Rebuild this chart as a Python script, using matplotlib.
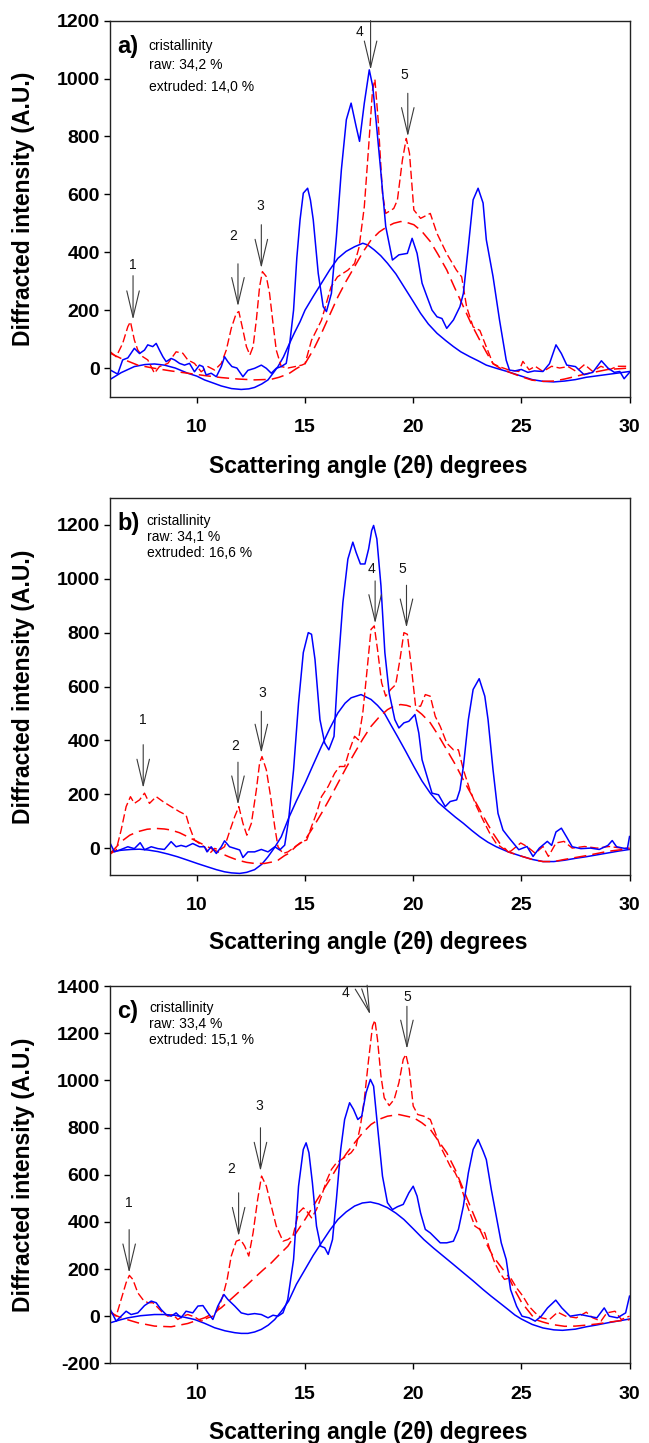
import matplotlib
matplotlib.use("Agg")
import matplotlib.pyplot as plt

plt.rcParams['font.family'] = ['Liberation Sans', 'DejaVu Sans']
plt.rcParams['axes.unicode_minus'] = False

# ---------------- panel a ----------------
a_raw_x = [6.0, 6.34, 6.57, 6.81, 7.11, 7.35, 7.58, 7.73, 7.96, 8.12, 8.27, 8.43, 8.58, 8.81, 8.97, 9.2, 9.43,
           9.66, 9.89, 10.12, 10.28, 10.43, 10.66, 10.9, 11.13, 11.28, 11.43, 11.62, 11.85, 12.13, 12.36, 12.67,
           12.98, 13.21, 13.44, 13.67, 13.9, 14.13, 14.3, 14.47, 14.62, 14.77, 14.92, 15.12, 15.25, 15.38, 15.61,
           15.84, 15.99, 16.22, 16.45, 16.68, 16.91, 17.13, 17.36, 17.52, 17.74, 17.97, 18.13, 18.28, 18.51, 18.73,
           19.04, 19.34, 19.73, 19.95, 20.18, 20.41, 20.64, 20.87, 21.1, 21.33, 21.55, 21.86, 22.16, 22.32, 22.55,
           22.77, 23.0, 23.23, 23.38, 23.69, 23.99, 24.3, 24.45, 24.7, 25.0, 25.3, 25.6, 26.0, 26.3, 26.6, 26.85,
           27.1, 27.5, 27.9, 28.3, 28.7, 29.0, 29.3, 29.55, 29.75, 30.0]
a_raw_y = [-7, -21, 28, 35, 68, 50, 62, 80, 74, 85, 62, 39, 22, 33, 28, 16, 10,
           16, -13, 10, 5, -24, -18, -30, 5, 39, 22, 5, 0, -30, -8, -1,
           10, -1, -18, -1, 5, 16, 90, 200, 380, 512, 604, 621, 580, 512, 327,
           212, 195, 258, 454, 685, 858, 915, 835, 783, 915, 1030, 973, 858, 673, 489,
           373, 391, 396, 448, 396, 293, 246, 200, 177, 171, 137, 166, 212, 258, 420,
           581, 621, 570, 443, 316, 166, 27, -7, -10, -5, -15, -10, -12, 15, 80, 50,
           10, 5, -23, -15, 25, 0, -15, -12, -37, -15]
a_raw_fit_x = [6.0, 6.5, 7.11, 7.6, 8.04, 8.5, 9.0, 9.58, 10.0, 10.35, 10.8, 11.13, 11.6, 12.05, 12.4, 12.67,
               13.0, 13.29, 13.5, 13.75, 14.0, 14.24, 14.5, 14.77, 15.0, 15.4, 15.76, 16.15, 16.52, 16.9, 17.29,
               17.67, 17.9, 18.2, 18.5, 18.81, 19.2, 19.57, 20.0, 20.34, 20.7, 21.1, 21.5, 21.86, 22.2, 22.62,
               23.0, 23.38, 23.8, 24.39, 25.0, 25.5, 26.0, 26.5, 27.0, 27.5, 28.0, 28.5, 29.0, 29.5, 30.0]
a_raw_fit_y = [-39, -16, 5, 12, 14, 10, 0, -18, -28, -41, -53, -62, -71, -74, -72, -67,
               -55, -41, -20, 5, 38, 78, 120, 160, 200, 250, 293, 340, 379, 403, 419,
               431, 425, 408, 388, 362, 325, 281, 230, 189, 152, 120, 95, 74, 56, 39,
               25, 10, 0, -13, -28, -40, -46, -48, -45, -40, -32, -27, -22, -17, -12]
a_ext_x = [6.0, 6.27, 6.57, 6.81, 6.93, 7.11, 7.27, 7.5, 7.73, 8.04, 8.27, 8.66, 9.04, 9.35, 9.58, 9.89, 10.2,
           10.51, 10.82, 11.13, 11.36, 11.59, 11.82, 11.94, 12.13, 12.29, 12.45, 12.6, 12.75, 12.9, 13.03, 13.21,
           13.36, 13.52, 13.67, 13.9, 14.21, 14.54, 14.85, 15.0, 15.3, 15.76, 16.2, 16.5, 16.98, 17.29, 17.5,
           17.74, 17.94, 18.12, 18.23, 18.38, 18.58, 18.73, 19.1, 19.27, 19.5, 19.68, 19.83, 20.03, 20.34, 20.79,
           21.1, 21.55, 22.0, 22.24, 22.47, 22.77, 23.08, 23.38, 23.69, 24.0, 24.4, 24.88, 25.07, 25.36, 25.64,
           26.0, 26.4, 26.77, 27.16, 27.54, 27.92, 28.3, 28.68, 29.06, 29.44, 30.0]
a_ext_y = [56, 39, 85, 143, 160, 97, 62, 39, 28, -18, 5, 16, 56, 51, 28, 16, -13,
           5, -7, 16, 62, 137, 189, 195, 131, 74, 45, 74, 166, 281, 333, 316,
           258, 154, 62, 5, 0, 5, 10, 15, 96, 165, 280, 315, 338, 361, 418,
           557, 764, 960, 997, 857, 603, 534, 551, 580, 718, 793, 741, 546, 517, 534,
           465, 395, 338, 315, 211, 142, 130, 73, 15, 4, -6, -12, 23, -6, 6,
           -12, 6, 0, 5, -12, 12, -12, 6, -6, 6, 6]
a_ext_fit_x = [6.0, 6.5, 7.27, 8.04, 8.8, 9.58, 10.35, 11.13, 11.9, 12.67, 13.44, 13.8, 14.24, 14.6, 15.0, 15.4,
               15.76, 16.15, 16.52, 16.9, 17.29, 17.67, 18.05, 18.43, 18.81, 19.1, 19.42, 19.7, 20.03, 20.4,
               20.79, 21.15, 21.55, 21.9, 22.32, 22.7, 23.08, 23.4, 23.69, 24.0, 24.39, 25.0, 25.5, 26.0, 26.5,
               27.0, 27.5, 28.0, 29.0, 30.0]
a_ext_fit_y = [51, 33, 10, -1, -10, -18, -26, -33, -38, -41, -39, -32, -20, -2, 15, 65,
               120, 185, 246, 300, 350, 400, 442, 470, 489, 500, 506, 503, 495, 472,
               437, 392, 339, 280, 212, 150, 96, 52, 15, 0, -13, -30, -42, -46, -45,
               -38, -29, -20, -5, 0]

# ---------------- panel b ----------------
b_raw_x = [6.0, 6.19, 6.5, 6.81, 7.11, 7.38, 7.58, 7.89, 8.2, 8.5, 8.81, 9.04, 9.27, 9.5, 9.81, 10.12, 10.35,
           10.47, 10.66, 10.9, 11.13, 11.28, 11.51, 11.75, 11.98, 12.13, 12.36, 12.67, 12.98, 13.29, 13.6, 13.83,
           14.06, 14.24, 14.47, 14.7, 14.92, 15.15, 15.3, 15.46, 15.69, 15.91, 16.1, 16.34, 16.52, 16.75, 16.98,
           17.21, 17.36, 17.56, 17.77, 17.94, 18.08, 18.17, 18.32, 18.51, 18.69, 18.89, 19.15, 19.34, 19.57, 19.8,
           20.08, 20.26, 20.41, 20.64, 20.87, 21.17, 21.48, 21.71, 22.01, 22.16, 22.32, 22.55, 22.77, 23.05,
           23.31, 23.46, 23.69, 23.92, 24.15, 24.39, 24.5, 24.88, 25.26, 25.54, 25.83, 26.2, 26.4, 26.6, 26.85,
           27.1, 27.35, 27.75, 28.2, 28.6, 29.0, 29.2, 29.4, 29.7, 29.9, 30.0]
b_raw_y = [17, -14, -5, 5, -2, 20, -6, 5, -2, -5, 24, 5, 10, 5, 17, 5, 5,
           -14, 5, -20, 5, 27, 5, -1, -7, -35, -14, -14, -5, -14, 5, -7,
           11, 104, 291, 539, 726, 800, 794, 701, 477, 390, 365, 415, 663, 912, 1073,
           1136, 1098, 1055, 1055, 1111, 1179, 1198, 1148, 974, 726, 576, 477, 446, 465, 471,
           496, 427, 328, 266, 204, 198, 154, 173, 179, 216, 303, 477, 589, 629,
           564, 477, 291, 129, 67, 42, 31, -6, 6, -31, 0, 25, 10, 60, 74,
           40, 5, -2, 0, -5, 10, 28, 5, 0, -2, 43]
b_raw_fit_x = [6.0, 6.5, 6.96, 7.35, 7.73, 8.2, 8.66, 9.1, 9.58, 10.05, 10.51, 10.9, 11.28, 11.6, 11.98, 12.3,
               12.67, 13.0, 13.29, 13.6, 13.9, 14.24, 14.6, 15.0, 15.38, 15.76, 16.15, 16.52, 16.85, 17.13,
               17.59, 18.05, 18.35, 18.66, 18.95, 19.27, 19.65, 20.03, 20.4, 20.79, 21.15, 21.55, 21.95, 22.32,
               22.7, 23.08, 23.45, 23.84, 24.39, 25.0, 25.5, 26.0, 26.5, 27.0, 27.5, 28.0, 28.5, 29.0, 29.5, 30.0]
b_raw_fit_y = [-14, -8, -5, -4, -7, -13, -22, -32, -45, -58, -70, -80, -88, -92, -94, -90,
               -80, -60, -32, 3, 42, 111, 175, 241, 310, 378, 445, 502, 538, 558,
               570, 552, 530, 502, 460, 415, 360, 303, 250, 204, 170, 142, 115, 92,
               66, 42, 22, 5, -14, -30, -42, -50, -50, -45, -38, -32, -25, -18, -11, -5]
b_ext_x = [6.0, 6.27, 6.5, 6.73, 6.93, 7.11, 7.35, 7.58, 7.81, 8.12, 8.43, 8.81, 9.2, 9.5, 9.66, 9.89, 10.12,
           10.35, 10.59, 10.82, 11.05, 11.28, 11.51, 11.75, 11.94, 12.13, 12.31, 12.52, 12.75, 12.9, 13.01, 13.21,
           13.41, 13.6, 13.75, 13.98, 14.21, 14.54, 14.85, 15.08, 15.3, 15.53, 15.76, 16.07, 16.37, 16.6, 16.83,
           17.06, 17.29, 17.47, 17.67, 17.87, 18.05, 18.2, 18.35, 18.54, 18.73, 18.96, 19.19, 19.39, 19.57, 19.73,
           19.91, 20.11, 20.34, 20.56, 20.79, 21.02, 21.25, 21.55, 21.86, 22.09, 22.32, 22.62, 22.93, 23.23,
           23.54, 23.84, 24.15, 24.5, 24.97, 25.26, 25.64, 26.0, 26.25, 26.6, 26.97, 27.35, 27.92, 28.5, 29.06,
           29.63, 30.0]
b_ext_y = [-22, -7, 67, 154, 191, 166, 179, 204, 166, 191, 173, 154, 135, 123, 79, 30, 17,
           5, -20, -1, -7, 5, 61, 117, 154, 92, 48, 92, 216, 316, 340, 291,
           191, 79, 5, -20, -14, 5, 24, 30, 80, 129, 191, 229, 278, 303, 303,
           365, 415, 402, 502, 663, 812, 825, 738, 614, 564, 589, 607, 701, 800, 794,
           676, 527, 527, 570, 564, 489, 452, 390, 365, 365, 291, 216, 154, 104,
           55, 17, -1, -12, 19, 6, -19, 6, -31, 19, 25, 0, 6, 0, 6,
           0, 0]
b_ext_fit_x = [6.0, 6.5, 6.9, 7.27, 7.7, 8.12, 8.5, 8.81, 9.2, 9.58, 9.95, 10.35, 10.75, 11.13, 11.5, 11.9, 12.3,
               12.67, 13.13, 13.45, 13.75, 14.05, 14.24, 14.6, 15.0, 15.38, 15.76, 16.15, 16.52, 16.9, 17.29,
               17.67, 18.05, 18.43, 18.81, 19.1, 19.42, 19.7, 20.03, 20.4, 20.79, 21.15, 21.55, 21.95, 22.32,
               22.7, 23.08, 23.4, 23.69, 24.0, 24.39, 25.0, 25.5, 26.0, 26.5, 27.0, 27.5, 28.0, 28.5, 29.0,
               29.5, 30.0]
b_ext_fit_y = [-20, 24, 48, 61, 70, 73, 71, 67, 57, 42, 27, 11, -5, -20, -33, -45, -53,
               -57, -57, -52, -45, -28, -20, 8, 30, 78, 129, 185, 241, 298, 353,
               405, 452, 487, 514, 527, 533, 530, 521, 497, 465, 420, 365, 310, 253,
               198, 142, 95, 55, 18, -14, -30, -42, -50, -50, -42, -35, -28, -20, -12,
               -7, -3]

# ---------------- panel c ----------------
c_raw_x = [6.0, 6.27, 6.5, 6.73, 6.96, 7.27, 7.58, 7.89, 8.12, 8.35, 8.58, 8.81, 9.04, 9.27, 9.5, 9.81, 10.05,
           10.28, 10.51, 10.74, 10.97, 11.25, 11.43, 11.75, 12.05, 12.36, 12.67, 12.98, 13.29, 13.52, 13.75,
           13.98, 14.2, 14.47, 14.7, 14.92, 15.05, 15.18, 15.34, 15.53, 15.72, 15.91, 16.07, 16.27, 16.45, 16.65,
           16.83, 17.06, 17.24, 17.44, 17.62, 17.82, 18.02, 18.17, 18.35, 18.58, 18.81, 19.04, 19.27, 19.54,
           19.8, 20.0, 20.18, 20.34, 20.56, 20.79, 21.02, 21.25, 21.55, 21.86, 22.09, 22.32, 22.55, 22.77, 23.0,
           23.23, 23.38, 23.61, 23.84, 24.07, 24.3, 24.5, 24.78, 25.03, 25.35, 25.64, 25.92, 26.21, 26.59,
           26.87, 27.25, 27.73, 28.1, 28.49, 28.83, 29.06, 29.44, 29.82, 30.0]
c_raw_y = [28, -21, 0, 21, 7, 14, 45, 64, 57, 28, 7, 0, 14, -7, 21, 14, 43,
           45, 14, -14, 43, 92, 71, 43, 14, 7, 11, 7, -7, 4, 0,
           14, 70, 240, 551, 707, 735, 693, 566, 382, 297, 290, 262, 325, 495, 707,
           834, 905, 877, 834, 848, 947, 1004, 975, 806, 594, 481, 452, 464, 474,
           523, 551, 509, 438, 368, 353, 332, 311, 311, 318, 368, 467, 608, 707, 749,
           700, 664, 537, 424, 311, 240, 113, 42, 0, -7, -21, 0, 35, 68,
           35, 0, 7, 0, -7, 35, 0, -7, 14, 85]
c_raw_fit_x = [6.0, 6.4, 6.81, 7.4, 8.04, 8.5, 8.97, 9.4, 9.89, 10.35, 10.82, 11.3, 11.75, 12.05, 12.36, 12.67,
               12.98, 13.3, 13.6, 13.9, 14.24, 14.6, 15.0, 15.38, 15.76, 16.15, 16.52, 16.9, 17.29, 17.65, 18.02,
               18.4, 18.81, 19.2, 19.57, 20.03, 20.49, 20.95, 21.4, 21.85, 22.32, 22.78, 23.23, 23.6, 23.99,
               24.39, 24.7, 25.0, 25.5, 26.0, 26.5, 26.9, 27.5, 28.0, 28.5, 29.0, 29.5, 30.0]
c_raw_fit_y = [-28, -17, -7, 2, 7, 7, 4, -4, -14, -30, -49, -62, -70, -73, -73, -67,
               -56, -38, -14, 20, 64, 135, 198, 258, 311, 365, 410, 442, 467, 480, 484,
               476, 460, 437, 410, 368, 325, 288, 254, 220, 184, 149, 113, 85, 57,
               28, 5, -12, -35, -50, -58, -60, -55, -45, -37, -28, -20, -12]
c_ext_x = [6.0, 6.27, 6.5, 6.73, 6.88, 7.04, 7.27, 7.5, 7.73, 7.97, 8.2, 8.43, 8.66, 8.89, 9.12, 9.35, 9.58,
           9.89, 10.2, 10.51, 10.74, 10.97, 11.2, 11.4, 11.59, 11.82, 12.02, 12.21, 12.4, 12.6, 12.81, 12.99,
           13.21, 13.44, 13.67, 13.98, 14.21, 14.44, 14.7, 14.92, 15.08, 15.3, 15.53, 15.76, 15.99, 16.22, 16.45,
           16.68, 16.91, 17.13, 17.36, 17.56, 17.74, 17.94, 18.12, 18.23, 18.35, 18.51, 18.66, 18.89, 19.12,
           19.34, 19.54, 19.66, 19.82, 20.0, 20.21, 20.49, 20.79, 21.02, 21.25, 21.48, 21.71, 21.94, 22.16,
           22.39, 22.62, 22.85, 23.08, 23.31, 23.54, 23.77, 24.0, 24.22, 24.5, 24.78, 25.07, 25.35, 25.64,
           25.92, 26.3, 26.68, 27.05, 27.54, 28.0, 28.3, 28.68, 28.95, 29.33, 29.62, 30.0]
c_ext_y = [21, 0, 71, 142, 173, 156, 99, 71, 57, 57, 36, 14, 0, 7, -14, 0, 7,
           -3, -21, -7, 0, 28, 85, 156, 255, 318, 325, 297, 255, 354, 495, 594,
           552, 467, 382, 318, 325, 340, 438, 459, 445, 417, 452, 509, 573, 622, 650,
           664, 679, 693, 721, 806, 919, 1089, 1230, 1255, 1173, 1018, 926, 893, 919,
           990, 1089, 1110, 1046, 891, 855, 848, 834, 778, 721, 679, 636, 608, 566,
           495, 438, 382, 368, 353, 283, 226, 184, 156, 163, 120, 85, 42, 14,
           -7, -14, 17, 0, -7, 17, -7, -21, 14, 21, -14, 0]
c_ext_fit_x = [6.0, 6.5, 7.27, 8.04, 8.81, 9.58, 10.35, 10.75, 11.13, 11.5, 11.9, 12.3, 12.67, 13.05, 13.44, 13.8,
               14.21, 14.6, 15.0, 15.38, 15.76, 16.15, 16.52, 16.9, 17.29, 17.67, 18.05, 18.43, 18.81, 19.34,
               20.03, 20.4, 20.79, 21.15, 21.55, 21.95, 22.32, 22.7, 23.08, 23.4, 23.69, 24.05, 24.39, 24.7,
               25.0, 25.3, 25.64, 26.0, 26.4, 27.0, 27.5, 28.0, 28.5, 29.0, 29.5, 30.0]
c_ext_fit_y = [14, -7, -28, -42, -45, -31, -7, 12, 36, 66, 99, 131, 163, 195, 226, 260,
               297, 355, 410, 467, 523, 580, 636, 688, 735, 778, 813, 835, 848, 855,
               841, 820, 792, 745, 693, 620, 537, 452, 368, 305, 254, 210, 170, 110,
               60, 25, -14, -25, -35, -43, -42, -38, -33, -26, -20, -15]

panel_tags = ['a)', 'b)', 'c)']
raw_cryst = ['34,2', '34,1', '33,4']
ext_cryst = ['14,0', '16,6', '15,1']

BLUE = '#0000ff'
RED = '#ff0000'
ARROW = '#3a3a3a'


def draw_panel(ax, raw, raw_fit, ext, ext_fit, ylim, yticks):
    ax.plot(raw_fit[0], raw_fit[1], color=BLUE, lw=1.1)
    ax.plot(ext_fit[0], ext_fit[1], color=RED, lw=1.1, dashes=(8, 4))
    ax.plot(ext[0], ext[1], color=RED, lw=1.0, dashes=(6, 2.5))
    ax.plot(raw[0], raw[1], color=BLUE, lw=1.1)
    ax.set_xlim(6, 30)
    ax.set_ylim(*ylim)
    ax.set_xticks([10, 15, 20, 25, 30])
    ax.set_yticks(yticks)
    ax.tick_params(direction='out', length=4, width=1, labelsize=14, top=False, right=False)
    ax.tick_params(axis='x', pad=12)
    for lab in ax.get_xticklabels() + ax.get_yticklabels():
        lab.set_fontweight('bold')
    for sp in ax.spines.values():
        sp.set_linewidth(1.0)
        sp.set_color('#222222')
    ax.set_xlabel('Scattering angle (2\u03b8) degrees', fontsize=16.5, fontweight='bold', va='center')
    ax.set_ylabel('Diffracted intensity (A.U.)', fontsize=16.5, fontweight='bold', va='center')
    ax.yaxis.set_label_coords(-0.167, 0.5)


def draw_arrows(ax, arrows):
    for lab, tx, ty, x0, y0, x1, y1 in arrows:
        ax.text(tx, ty, lab, ha='center', va='center', fontsize=10, color='#111111')
        ax.annotate('', xy=(x1, y1), xytext=(x0, y0),
                    arrowprops=dict(arrowstyle='->,head_length=1.9,head_width=0.45', color=ARROW,
                                    lw=0.8, shrinkA=0, shrinkB=0, mutation_scale=10))


fig = plt.figure(figsize=(6.49, 14.43), dpi=100)
ax_a = fig.add_axes([0.170, 0.7249, 0.800, 0.2608])
ax_b = fig.add_axes([0.170, 0.3936, 0.800, 0.2613])
ax_c = fig.add_axes([0.170, 0.0552, 0.800, 0.2615])

draw_panel(ax_a, (a_raw_x, a_raw_y), (a_raw_fit_x, a_raw_fit_y), (a_ext_x, a_ext_y),
           (a_ext_fit_x, a_ext_fit_y), (-100, 1200), range(0, 1201, 200))
draw_panel(ax_b, (b_raw_x, b_raw_y), (b_raw_fit_x, b_raw_fit_y), (b_ext_x, b_ext_y),
           (b_ext_fit_x, b_ext_fit_y), (-100, 1300), range(0, 1201, 200))
draw_panel(ax_c, (c_raw_x, c_raw_y), (c_raw_fit_x, c_raw_fit_y), (c_ext_x, c_ext_y),
           (c_ext_fit_x, c_ext_fit_y), (-200, 1400), range(-200, 1401, 200))

ax_a.xaxis.set_label_coords(0.497, -0.186)
ax_b.xaxis.set_label_coords(0.497, -0.180)
ax_c.xaxis.set_label_coords(0.497, -0.183)

# panel labels and crystallinity notes
text_rows = [(0.933, 0.882, 0.824), (0.940, 0.896, 0.854), (0.942, 0.900, 0.857)]
text_x = [0.074, 0.070, 0.075]
tag_y = [0.930, 0.932, 0.933]
for ax, tag, r, e, rows, tx, ty in zip([ax_a, ax_b, ax_c], panel_tags, raw_cryst, ext_cryst,
                                       text_rows, text_x, tag_y):
    ax.text(0.014, ty, tag, transform=ax.transAxes, fontsize=17, fontweight='bold',
            ha='left', va='center')
    ax.text(tx, rows[0], 'cristallinity', transform=ax.transAxes, fontsize=10, va='center')
    ax.text(tx, rows[1], 'raw: %s %%' % r, transform=ax.transAxes, fontsize=10, va='center')
    ax.text(tx, rows[2], 'extruded: %s %%' % e, transform=ax.transAxes, fontsize=10, va='center')

# peak arrows: label, text x, text y, arrow start x, y, arrow end x, y
draw_arrows(ax_a, [('1', 7.06, 357, 7.05, 319, 7.05, 167),
                   ('2', 11.67, 455, 11.9, 360, 11.9, 213),
                   ('3', 12.94, 558, 12.98, 495, 12.98, 345),
                   ('4', 17.5, 1162, 18.03, 1200, 18.03, 1030),
                   ('5', 19.6, 1013, 19.75, 949, 19.75, 800)])
draw_arrows(ax_b, [('1', 7.52, 477, 7.52, 384, 7.52, 223),
                   ('2', 11.76, 380, 11.9, 319, 11.9, 161),
                   ('3', 13.03, 576, 12.98, 508, 12.98, 353),
                   ('4', 18.07, 1038, 18.24, 992, 18.24, 834),
                   ('5', 19.48, 1038, 19.69, 976, 19.69, 818)])
draw_arrows(ax_c, [('1', 6.87, 481, 6.87, 367, 6.87, 184),
                   ('2', 11.6, 625, 11.93, 523, 11.93, 339),
                   ('3', 12.9, 893, 12.94, 799, 12.94, 615),
                   ('4', 16.85, 1370, 17.62, 1388, 18.01, 1279),
                   ('5', 19.71, 1354, 19.71, 1314, 19.71, 1133)])

fig.savefig('out.png', dpi=100)
